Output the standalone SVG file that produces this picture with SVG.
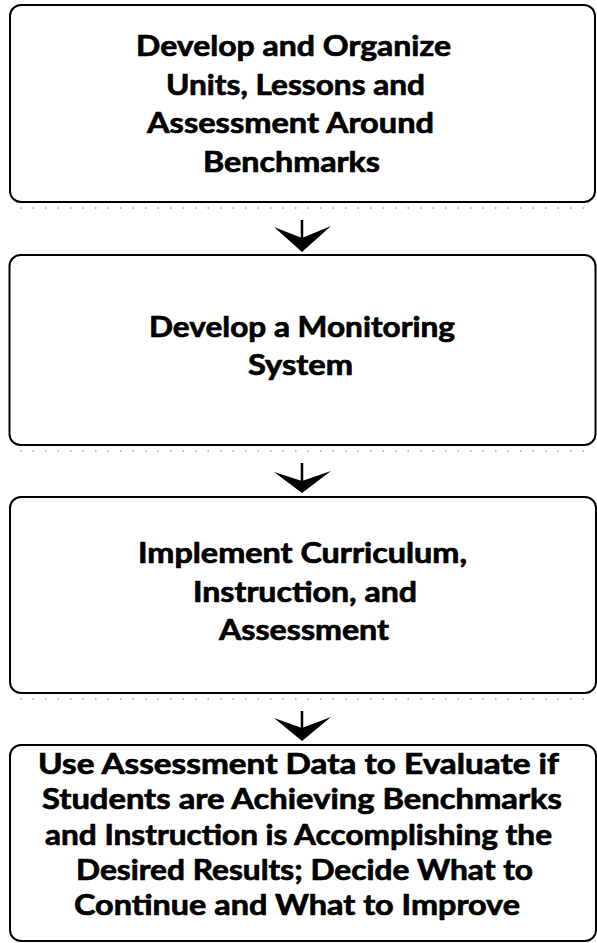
<svg xmlns="http://www.w3.org/2000/svg" width="597" height="943" viewBox="0 0 597 943">
<style>
.box{fill:#fff;stroke:#000;stroke-width:2}
.t{font-family:Lato,"Open Sans","Liberation Sans",sans-serif;font-weight:700;font-size:28px;fill:#000;stroke:#000;stroke-width:0.7;stroke-linejoin:round;text-anchor:middle}
.stem{stroke:#000;stroke-width:2.5;fill:none}
.head{fill:#000}
.speck{stroke:#777;stroke-width:1;stroke-dasharray:1.5 11;fill:none}
</style>
<rect width="597" height="943" fill="#fff"/>
<g id="n1">
<rect class="box" x="10" y="5" width="585" height="197" rx="11"/>
<text class="t" x="293.5" y="56" textLength="315" lengthAdjust="spacingAndGlyphs">Develop and Organize</text>
<text class="t" x="295.5" y="95" textLength="259" lengthAdjust="spacingAndGlyphs">Units, Lessons and</text>
<text class="t" x="290.5" y="133" textLength="287" lengthAdjust="spacingAndGlyphs">Assessment Around</text>
<text class="t" x="291.5" y="172" textLength="177" lengthAdjust="spacingAndGlyphs">Benchmarks</text>
</g>
<g id="n2">
<rect class="box" x="9.5" y="255" width="586" height="190" rx="11"/>
<text class="t" x="302" y="337" textLength="306" lengthAdjust="spacingAndGlyphs">Develop a Monitoring</text>
<text class="t" x="300.5" y="375" textLength="105" lengthAdjust="spacingAndGlyphs">System</text>
</g>
<g id="n3">
<rect class="box" x="10" y="497" width="586" height="196" rx="11"/>
<text class="t" x="302.5" y="563" textLength="329" lengthAdjust="spacingAndGlyphs">Implement Curriculum,</text>
<text class="t" x="305" y="602" textLength="224" lengthAdjust="spacingAndGlyphs">Instruction, and</text>
<text class="t" x="304" y="640" textLength="170" lengthAdjust="spacingAndGlyphs">Assessment</text>
</g>
<g id="n4">
<rect class="box" x="10" y="745" width="586" height="196" rx="11"/>
<text class="t" x="298.5" y="774" textLength="521" lengthAdjust="spacingAndGlyphs">Use Assessment Data to Evaluate if</text>
<text class="t" x="302" y="809" textLength="520" lengthAdjust="spacingAndGlyphs">Students are Achieving Benchmarks</text>
<text class="t" x="298.5" y="845" textLength="507" lengthAdjust="spacingAndGlyphs">and Instruction is Accomplishing the</text>
<text class="t" x="304.5" y="880" textLength="457" lengthAdjust="spacingAndGlyphs">Desired Results; Decide What to</text>
<text class="t" x="297" y="915" textLength="446" lengthAdjust="spacingAndGlyphs">Continue and What to Improve</text>
</g>
<g id="connectors">
<path class="speck" d="M20,208 H590"/>
<path class="speck" d="M20,451 H590"/>
<path class="speck" d="M20,699 H590"/>
<g id="e1">
<path class="stem" d="M302,220 V242"/>
<path class="head" d="M274,227 L302,238 L331,226 L302,252 Z"/>
</g>
<g id="e2">
<path class="stem" d="M302,463 V483"/>
<path class="head" d="M274,472 L302,481 L331,471 L302,493 Z"/>
</g>
<g id="e3">
<path class="stem" d="M302,711 V731"/>
<path class="head" d="M274,718 L302,728 L331,717 L302,741 Z"/>
</g>
</g>
</svg>
